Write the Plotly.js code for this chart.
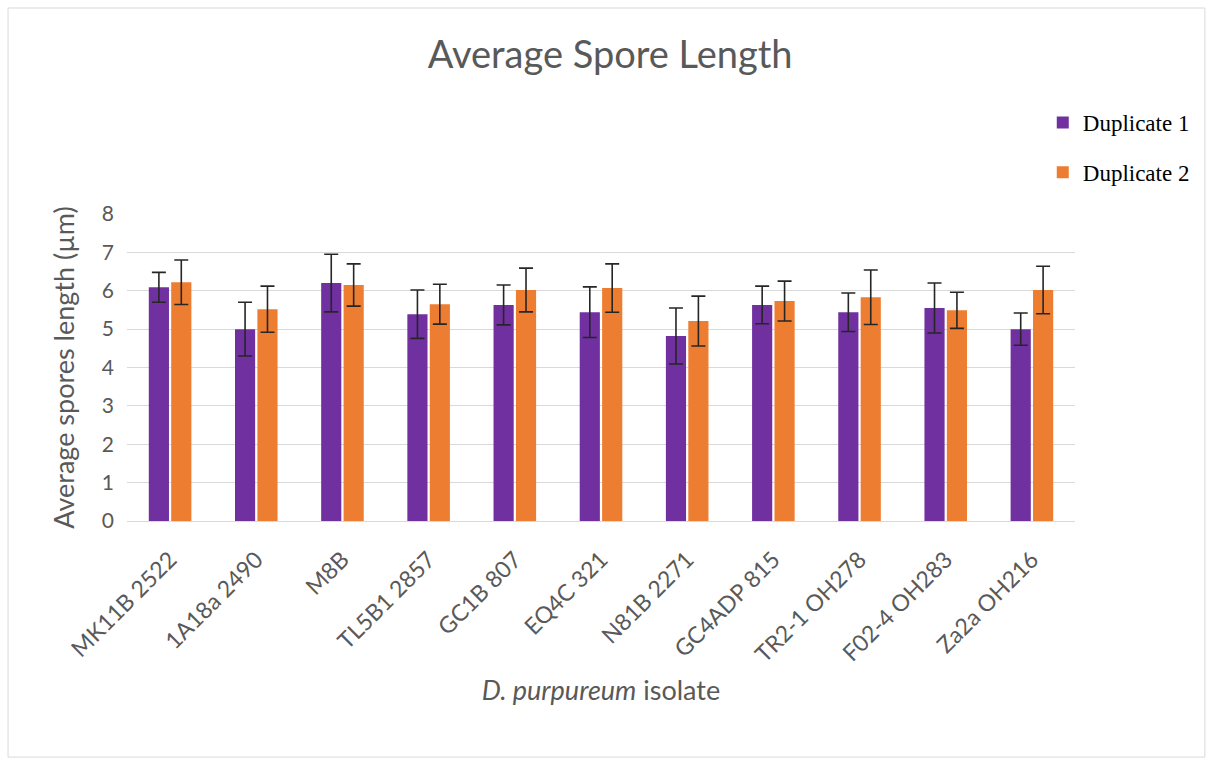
<!DOCTYPE html>
<html>
<head>
<meta charset="utf-8">
<script src="https://cdn.plot.ly/plotly-3.0.1.min.js"></script>
<style>html,body{margin:0;padding:0;background:#fff;}#chart{width:1213px;height:765px;}</style>
</head>
<body>
<div id="chart"></div>
<script>
const isolates = ["MK11B 2522","1A18a 2490","M8B","TL5B1 2857","GC1B 807","EQ4C 321","N81B 2271","GC4ADP 815","TR2-1 OH278","F02-4 OH283","Za2a OH216"];
const dup1 = [6.09, 5.00, 6.20, 5.39, 5.63, 5.44, 4.82, 5.63, 5.44, 5.55, 5.00];
const dup1Err = [0.39, 0.70, 0.75, 0.63, 0.52, 0.66, 0.73, 0.49, 0.50, 0.65, 0.42];
const dup2 = [6.22, 5.52, 6.15, 5.65, 6.02, 6.07, 5.21, 5.73, 5.83, 5.49, 6.02];
const dup2Err = [0.58, 0.60, 0.55, 0.52, 0.57, 0.63, 0.65, 0.52, 0.71, 0.47, 0.62];
const yTicks = [0,1,2,3,4,5,6,7,8];

const errStyle = {type:'data', visible:true, color:'#262626', thickness:1.6, width:7};

const traces = [
  {type:'bar', name:'Duplicate 1', x:isolates, y:dup1, marker:{color:'#7030a0'},
   error_y:Object.assign({array:dup1Err}, errStyle), legendgroup:'g1'},
  {type:'bar', name:'Duplicate 2', x:isolates, y:dup2, marker:{color:'#ed7d31'},
   error_y:Object.assign({array:dup2Err}, errStyle), legendgroup:'g2'}
];

const FONT = 'Lato, "Open Sans", sans-serif';

const layout = {
  width:1213, height:765,
  margin:{l:127, r:138, t:214, b:244},
  paper_bgcolor:'#ffffff', plot_bgcolor:'#ffffff',
  font:{family:FONT, color:'#595959'},
  title:{text:'Average Spore Length', x:0.503, xref:'container', y:0.928, yref:'container', yanchor:'middle',
         font:{size:38, color:'#595959', family:FONT}},
  barmode:'group', bargap:0.48, bargroupgap:0.1,
  xaxis:{automargin:false, tickangle:-45, tickfont:{size:23, color:'#595959'}, ticklabelstandoff:15,
         showline:true, linecolor:'#d9d9d9', linewidth:1, ticks:'', showgrid:false,
         title:{text:'<i>D. purpureum</i> isolate', font:{size:27, color:'#595959'}, standoff:14}},
  yaxis:{automargin:false, range:[0,8], tickvals:yTicks, ticktext:yTicks.map(String),
         tickfont:{size:21, color:'#595959'}, ticklabelstandoff:12,
         showgrid:true, gridcolor:'#d9d9d9', gridwidth:1,
         zeroline:false, showline:false, ticks:'', ticklen:0,
         title:{text:'Average spores length (µm)', font:{size:27, color:'#595959'}, standoff:19}},
  legend:{x:0.966, xanchor:'left', y:1.368, yanchor:'top', traceorder:'grouped', tracegroupgap:17,
          font:{family:'"Liberation Serif", "DejaVu Serif", serif', size:23, color:'#000000'},
          bgcolor:'rgba(0,0,0,0)', itemwidth:30},
  shapes:[{type:'rect', xref:'paper', yref:'paper', x0:-0.1255, x1:1.137, y0:-0.769, y1:1.671,
           line:{color:'#d9d9d9', width:1}, fillcolor:'rgba(0,0,0,0)', layer:'below'}]
};

Plotly.newPlot('chart', traces, layout, {displayModeBar:false, staticPlot:true});
</script>
</body>
</html>
